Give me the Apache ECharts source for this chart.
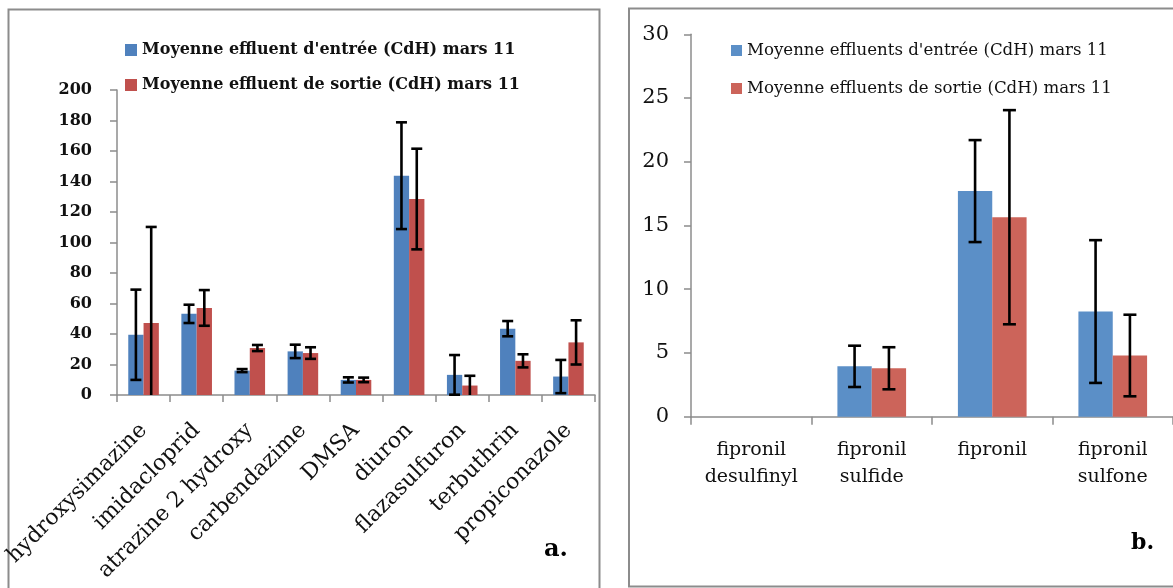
<!DOCTYPE html>
<html>
<head>
<meta charset="utf-8">
<script src="https://cdn.jsdelivr.net/npm/echarts@6/dist/echarts.min.js"></script>
<style>
  html, body { margin: 0; padding: 0; background: #fff; }
  #chart { width: 1173px; height: 588px; }
</style>
</head>
<body>
<div id="chart"></div>
<script>
// Panel a: pesticides, inlet vs outlet effluent means (March 11)
const categoriesA = ['hydroxysimazine', 'imidacloprid', 'atrazine 2 hydroxy', 'carbendazime', 'DMSA',
  'diuron', 'flazasulfuron', 'terbuthrin', 'propiconazole'];
const inletA  = [39.5, 53.2, 16.0, 28.6, 9.9, 143.8, 13.2, 43.5, 12.1];
const inletErrA = [29.6, 6.0, 1.0, 4.4, 1.7, 35.0, 13.0, 5.0, 10.9];
const outletA = [47.2, 57.1, 30.8, 27.5, 9.9, 128.5, 6.2, 22.4, 34.5];
const outletErrA = [63.0, 11.7, 2.0, 3.8, 1.5, 33.0, 6.4, 4.3, 14.5];
const legendA = ["Moyenne effluent d'entrée (CdH) mars 11", "Moyenne effluent de sortie (CdH) mars 11"];

// Panel b: fipronil and its metabolites
const categoriesB = ['fipronil\ndesulfinyl', 'fipronil\nsulfide', 'fipronil', 'fipronil\nsulfone'];
const inletB  = [null, 3.95, 17.7, 8.25];
const inletErrB = [null, 1.62, 4.0, 5.6];
const outletB = [null, 3.8, 15.65, 4.8];
const outletErrB = [null, 1.65, 8.4, 3.2];
const legendB = ["Moyenne effluents d'entrée (CdH) mars 11", "Moyenne effluents de sortie (CdH) mars 11"];

const FONT = 'DejaVu Serif';
const AXIS_GREY = '#8c8c8c';

// Error bar items: [categoryIndex, mean, error]
function errItems(means, errs) {
  return means.map((m, i) => (m == null || errs[i] == null) ? null : [i, m, errs[i]]).filter(d => d);
}

// Draws a vertical error bar over the left (-1) or right (+1) bar of a pair
function errorBar(side, gapRatio, capW) {
  return function (params, api) {
    const idx = api.value(0), mean = api.value(1), err = api.value(2);
    const hiVal = mean + err;
    const loVal = Math.max(0, mean - err);
    const catW = api.size([1, 0])[0];
    const barW = catW * (1 - gapRatio) / 2;
    const base = api.coord([idx, mean]);
    const cx = base[0] + side * barW / 2;
    const yHi = api.coord([idx, hiVal])[1];
    const yLo = api.coord([idx, loVal])[1];
    const style = { stroke: '#000', lineWidth: 2.6 };
    const children = [
      { type: 'line', shape: { x1: cx, y1: yHi, x2: cx, y2: yLo }, style },
      { type: 'line', shape: { x1: cx - capW / 2, y1: yHi, x2: cx + capW / 2, y2: yHi }, style }
    ];
    if (mean - err >= 0) {
      children.push({ type: 'line', shape: { x1: cx - capW / 2, y1: yLo, x2: cx + capW / 2, y2: yLo }, style });
    }
    return { type: 'group', children };
  };
}

const GAP_A = 0.424, GAP_B = 0.43;

const chart = echarts.init(document.getElementById('chart'), null, { renderer: 'canvas' });

chart.setOption({
  animation: false,
  backgroundColor: '#ffffff',
  textStyle: { fontFamily: FONT },
  legend: [
    {
      data: legendA, orient: 'vertical', left: 120, top: 37,
      itemWidth: 12, itemHeight: 12, itemGap: 19, icon: 'rect',
      textStyle: { fontFamily: FONT, fontWeight: 'bold', fontSize: 16, color: '#111' }
    },
    {
      data: legendB, orient: 'vertical', left: 726, top: 37,
      itemWidth: 11, itemHeight: 11, itemGap: 21, icon: 'rect',
      textStyle: { fontFamily: FONT, fontSize: 16.6, color: '#111' }
    }
  ],
  grid: [
    { left: 117, top: 90, width: 478, height: 305 },
    { left: 691, top: 34.3, width: 492, height: 382.4 }
  ],
  xAxis: [
    {
      type: 'category', gridIndex: 0, data: categoriesA,
      axisLine: { lineStyle: { color: AXIS_GREY, width: 1.5 } },
      axisTick: { show: true, length: 7, lineStyle: { color: AXIS_GREY, width: 1.5 } },
      axisLabel: { rotate: 45, interval: 0, margin: 32, fontFamily: FONT, fontSize: 22, color: '#111' }
    },
    {
      type: 'category', gridIndex: 1, data: categoriesB,
      axisLine: { lineStyle: { color: AXIS_GREY, width: 1.5 } },
      axisTick: { show: true, length: 8, lineStyle: { color: AXIS_GREY, width: 1.5 } },
      axisLabel: { interval: 0, margin: 20, fontFamily: FONT, fontSize: 19, lineHeight: 27, color: '#111' }
    }
  ],
  yAxis: [
    {
      type: 'value', gridIndex: 0, min: 0, max: 200, interval: 20,
      splitLine: { show: false },
      axisLine: { show: true, lineStyle: { color: AXIS_GREY, width: 1.5 } },
      axisTick: { show: true, length: 7, lineStyle: { color: AXIS_GREY, width: 1.5 } },
      axisLabel: { margin: 25, fontFamily: FONT, fontWeight: 'bold', fontSize: 16, color: '#111' }
    },
    {
      type: 'value', gridIndex: 1, min: 0, max: 30, interval: 5,
      splitLine: { show: false },
      axisLine: { show: true, lineStyle: { color: AXIS_GREY, width: 1.5 } },
      axisTick: { show: true, length: 7, lineStyle: { color: AXIS_GREY, width: 1.5 } },
      axisLabel: { margin: 22, fontFamily: FONT, fontSize: 21, color: '#111' }
    }
  ],
  series: [
    {
      name: legendA[0], type: 'bar', xAxisIndex: 0, yAxisIndex: 0, data: inletA,
      barGap: '0%', barCategoryGap: (GAP_A * 100) + '%',
      itemStyle: { color: '#4f81bd' }
    },
    {
      name: legendA[1], type: 'bar', xAxisIndex: 0, yAxisIndex: 0, data: outletA,
      barGap: '0%', barCategoryGap: (GAP_A * 100) + '%',
      itemStyle: { color: '#c0504d' }
    },
    {
      type: 'custom', xAxisIndex: 0, yAxisIndex: 0, z: 5,
      renderItem: errorBar(-1, GAP_A, 11), data: errItems(inletA, inletErrA)
    },
    {
      type: 'custom', xAxisIndex: 0, yAxisIndex: 0, z: 5,
      renderItem: errorBar(1, GAP_A, 11), data: errItems(outletA, outletErrA)
    },
    {
      name: legendB[0], type: 'bar', xAxisIndex: 1, yAxisIndex: 1, data: inletB,
      barGap: '0%', barCategoryGap: (GAP_B * 100) + '%',
      itemStyle: { color: '#5b8fc7' }
    },
    {
      name: legendB[1], type: 'bar', xAxisIndex: 1, yAxisIndex: 1, data: outletB,
      barGap: '0%', barCategoryGap: (GAP_B * 100) + '%',
      itemStyle: { color: '#cc645a' }
    },
    {
      type: 'custom', xAxisIndex: 1, yAxisIndex: 1, z: 5,
      renderItem: errorBar(-1, GAP_B, 13), data: errItems(inletB, inletErrB)
    },
    {
      type: 'custom', xAxisIndex: 1, yAxisIndex: 1, z: 5,
      renderItem: errorBar(1, GAP_B, 13), data: errItems(outletB, outletErrB)
    }
  ],
  graphic: [
    // panel frames
    { type: 'rect', shape: { x: 8.5, y: 9.5, width: 591, height: 600 },
      style: { fill: 'none', stroke: AXIS_GREY, lineWidth: 2 }, silent: true, z: -1 },
    { type: 'rect', shape: { x: 629, y: 8.5, width: 560, height: 578 },
      style: { fill: 'none', stroke: AXIS_GREY, lineWidth: 2 }, silent: true, z: -1 },
    // panel letters
    { type: 'text', left: 544, top: 538,
      style: { text: 'a.', fontFamily: FONT, fontWeight: 'bold', fontSize: 24, fill: '#000' } },
    { type: 'text', left: 1131, top: 532,
      style: { text: 'b.', fontFamily: FONT, fontWeight: 'bold', fontSize: 22, fill: '#000' } }
  ]
});
</script>
</body>
</html>
